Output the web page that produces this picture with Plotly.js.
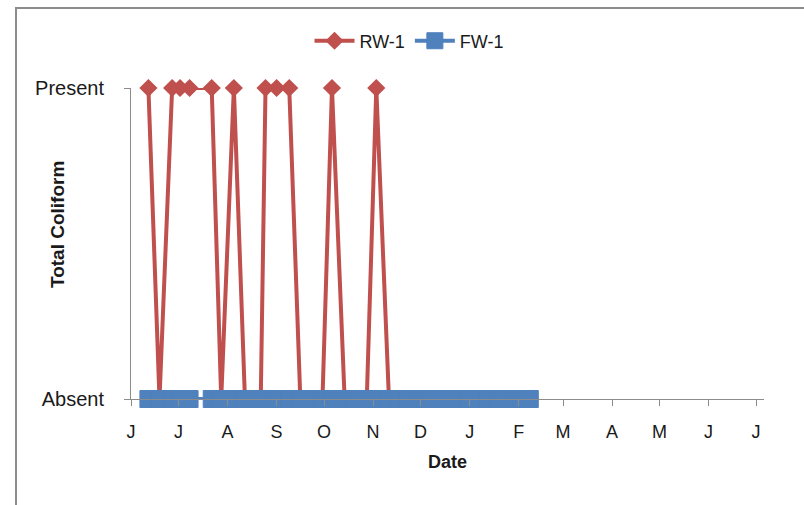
<!DOCTYPE html>
<html>
<head>
<meta charset="utf-8">
<script src="https://cdn.plot.ly/plotly-3.0.1.min.js"></script>
<style>
  html, body { margin: 0; padding: 0; background: #fff; overflow: hidden; }
  #wrap { position: relative; width: 804px; height: 505px; overflow: hidden; }
  #chart { position: absolute; left: 0; top: 0; width: 804px; height: 505px; }
  #frame { position: absolute; left: 15px; top: 7px; width: 900px; height: 600px;
           border: 2px solid #8c8c8c; pointer-events: none; box-sizing: border-box; }
</style>
</head>
<body>
<div id="wrap">
  <div id="chart"></div>
  <div id="frame"></div>
</div>
<script>
// ---- data ----
const sampleDates = [
  '2012-06-12','2012-06-19','2012-06-27','2012-07-02','2012-07-08',
  '2012-07-22','2012-07-28','2012-08-05','2012-08-12','2012-08-22',
  '2012-08-25','2012-09-01','2012-09-09','2012-09-16','2012-09-22',
  '2012-09-30','2012-10-06','2012-10-14','2012-10-20','2012-10-28',
  '2012-11-03','2012-11-11','2012-11-17','2012-11-23','2012-12-01',
  '2012-12-08','2012-12-15','2012-12-22','2012-12-31','2013-01-06',
  '2013-01-12','2013-01-19','2013-01-27','2013-02-02','2013-02-08'
];
const rw1 = [
  'Present','Absent','Present','Present','Present',
  'Present','Absent','Present','Absent','Absent',
  'Present','Present','Present','Absent','Absent',
  'Absent','Present','Absent','Absent','Absent',
  'Present','Absent','Absent','Absent','Absent',
  'Absent','Absent','Absent','Absent','Absent',
  'Absent','Absent','Absent','Absent','Absent'
];
const fw1 = [
  'Absent','Absent','Absent','Absent','Absent',
  'Absent','Absent','Absent','Absent','Absent',
  'Absent','Absent','Absent','Absent','Absent',
  'Absent','Absent','Absent','Absent','Absent',
  'Absent','Absent','Absent','Absent','Absent',
  'Absent','Absent','Absent','Absent','Absent',
  'Absent','Absent','Absent','Absent','Absent'
];
const yCategories = ['Absent', 'Present'];
const monthTickDates = [
  '2012-06-01','2012-07-01','2012-08-01','2012-09-01','2012-10-01','2012-11-01','2012-12-01',
  '2013-01-01','2013-02-01','2013-03-01','2013-04-01','2013-05-01','2013-06-01','2013-07-01'
];
const monthTickLabels = ['J','J','A','S','O','N','D','J','F','M','A','M','J','J'];
const xRange = ['2012-06-01', '2013-07-06'];

const FONT = 'Liberation Sans, Arial, sans-serif';
const RED = '#C0504D';
const BLUE = '#4F81BD';
const AXIS = '#8c8c8c';

const traces = [
  {
    name: 'RW-1', type: 'scatter', mode: 'lines+markers',
    x: sampleDates, y: rw1,
    line: { color: RED, width: 4 },
    marker: { symbol: 'diamond', size: 14, color: RED },
    cliponaxis: false
  },
  {
    name: 'FW-1', type: 'scatter', mode: 'lines+markers',
    x: sampleDates, y: fw1,
    line: { color: BLUE, width: 4 },
    marker: { symbol: 'square', size: 17, color: BLUE, line: { color: BLUE, width: 1 } },
    cliponaxis: false
  }
];

const layout = {
  width: 804, height: 505,
  margin: { l: 131, r: 40, t: 88, b: 106 },
  paper_bgcolor: '#ffffff', plot_bgcolor: '#ffffff',
  font: { family: FONT, color: '#1a1a1a', size: 18 },
  showlegend: true,
  legend: {
    orientation: 'h', x: 0.44, xanchor: 'center', y: 1.151, yanchor: 'middle',
    font: { family: FONT, size: 18, color: '#1a1a1a' },
    itemwidth: 40, tracegroupgap: 0, bgcolor: 'rgba(0,0,0,0)'
  },
  xaxis: {
    type: 'date', range: xRange,
    tickmode: 'array', tickvals: monthTickDates, ticktext: monthTickLabels,
    ticks: 'outside', ticklen: 6, tickcolor: AXIS, tickwidth: 1,
    showline: true, linecolor: AXIS, linewidth: 1,
    showgrid: false, zeroline: false,
    tickfont: { family: FONT, size: 18, color: '#1a1a1a' },
    ticklabelstandoff: 10,
    title: { text: 'Date', font: { family: FONT, size: 18, color: '#1a1a1a', weight: 'bold' }, standoff: 14 }
  },
  yaxis: {
    type: 'category', categoryorder: 'array', categoryarray: yCategories,
    range: [0, 1],
    ticks: 'outside', ticklen: 6, tickcolor: AXIS, tickwidth: 1,
    showline: true, linecolor: AXIS, linewidth: 1,
    showgrid: true, gridcolor: '#a6a6a6', gridwidth: 1,
    zeroline: false,
    tickfont: { family: FONT, size: 20, color: '#1a1a1a' },
    ticklabelstandoff: 16
  },
  annotations: [
    {
      text: '<b>Total Coliform</b>', textangle: -90,
      xref: 'paper', yref: 'paper', x: -0.115, y: 0.56,
      xanchor: 'center', yanchor: 'middle', showarrow: false,
      font: { family: FONT, size: 19, color: '#1a1a1a' }
    }
  ]
};

Plotly.newPlot('chart', traces, layout, { displayModeBar: false, staticPlot: true });
</script>
</body>
</html>
